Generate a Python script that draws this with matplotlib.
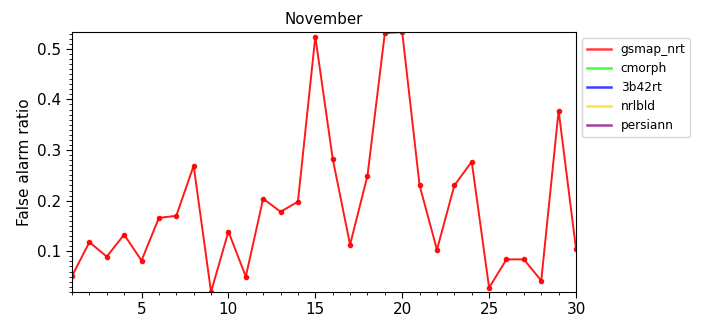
import matplotlib
matplotlib.use("Agg")
import matplotlib.pyplot as plt
import numpy as np
from matplotlib.ticker import MultipleLocator

days = list(range(1, 31))
gsmap_nrt = [0.051, 0.118, 0.0895, 0.133, 0.0816, 0.166, 0.170, 0.269, 0.0197, 0.139,
             0.050, 0.204, 0.178, 0.198, 0.524, 0.283, 0.113, 0.249, 0.531, 0.533,
             0.230, 0.103, 0.230, 0.277, 0.028, 0.084, 0.084, 0.042, 0.378, 0.105]
cmorph = [np.nan] * 30
b42rt = [np.nan] * 30
nrlbld = [np.nan] * 30
persiann = [np.nan] * 30

series = [("gsmap_nrt", gsmap_nrt, "red"), ("cmorph", cmorph, "lime"),
          ("3b42rt", b42rt, "blue"), ("nrlbld", nrlbld, "gold"),
          ("persiann", persiann, "purple")]

fig = plt.figure(figsize=(7.2, 3.24), dpi=100)
ax = fig.add_axes([0.1, 0.099, 0.7, 0.802])
for name, vals, col in series:
    ax.plot(days, vals, color=col, marker='o', markersize=3, linewidth=1.4, alpha=0.9, label=name)

ax.set_xlim(1, 30)
ax.set_ylim(np.nanmin(gsmap_nrt), np.nanmax(gsmap_nrt))
ax.xaxis.set_major_locator(MultipleLocator(5))
ax.xaxis.set_minor_locator(MultipleLocator(1))
ax.yaxis.set_major_locator(MultipleLocator(0.1))
ax.yaxis.set_minor_locator(MultipleLocator(0.01))
ax.tick_params(axis='both', which='major', labelsize=11, length=4)
ax.tick_params(axis='both', which='minor', length=2)
ax.set_ylabel("False alarm ratio", fontsize=11)
ax.set_title("November", fontsize=10.8)
leg = ax.legend(loc='upper left', bbox_to_anchor=(1.0, 1.0), fontsize=8.7, labelspacing=0.5)
for l in leg.get_lines():
    l.set_marker('')
    l.set_alpha(0.75)
    l.set_linewidth(1.8)
fig.savefig("out.png", dpi=100)
